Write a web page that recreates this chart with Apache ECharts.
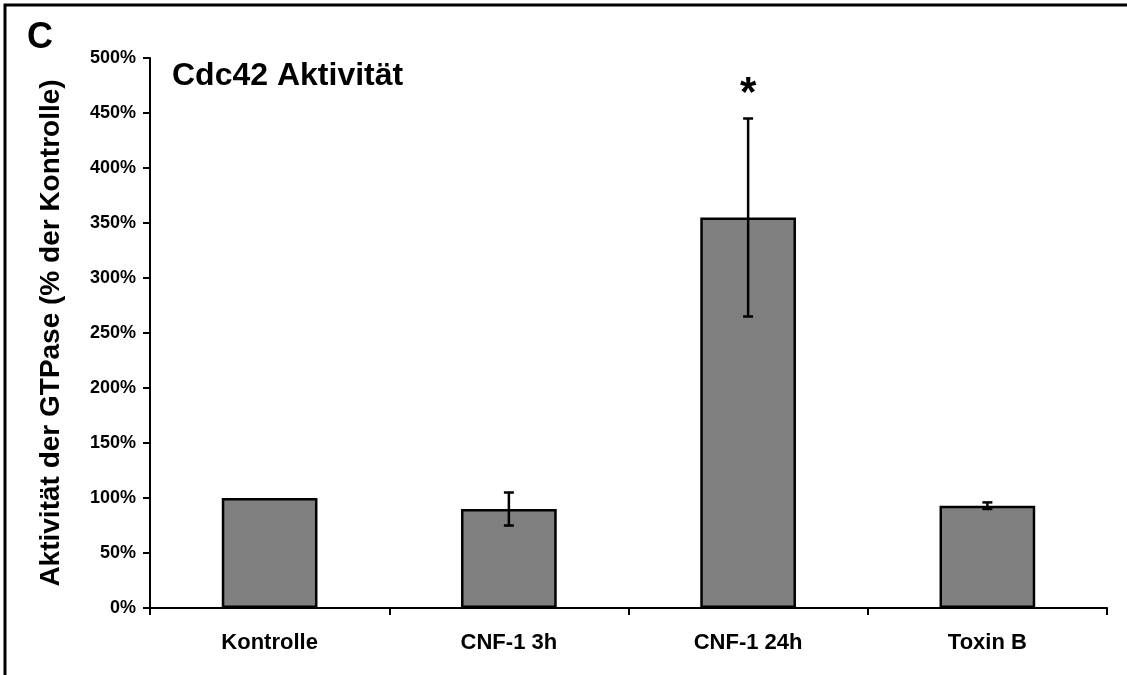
<!DOCTYPE html>
<html>
<head>
<meta charset="utf-8">
<script src="https://cdn.jsdelivr.net/npm/echarts@6/dist/echarts.min.js"></script>
<style>html,body{margin:0;padding:0;background:#fff}#c{width:1127px;height:675px}</style>
</head>
<body>
<div id="c"></div>
<script>
const categories = ['Kontrolle', 'CNF-1 3h', 'CNF-1 24h', 'Toxin B'];
const values = [100, 90, 355, 93];
const errLow = [null, 75, 265, 90];
const errHigh = [null, 105, 445, 96];
const starLabels = [null, null, '*', null];
const starValues = [null, null, 467, null];
const yTicks = [0, 50, 100, 150, 200, 250, 300, 350, 400, 450, 500];

const F = 'Liberation Sans, Arial, sans-serif';
const chart = echarts.init(document.getElementById('c'));

const errData = [];
categories.forEach((c, i) => { if (errLow[i] != null) errData.push([i, errLow[i], errHigh[i]]); });
const starData = [];
categories.forEach((c, i) => { if (starLabels[i]) starData.push({value: [i, starValues[i]], label: starLabels[i]}); });

chart.setOption({
  animation: false,
  backgroundColor: '#fff',
  graphic: [
    {type: 'rect', shape: {x: 5, y: 5, width: 1300, height: 900}, style: {fill: 'none', stroke: '#000', lineWidth: 3}, z: 100},
    {type: 'text', left: 27, top: 20, style: {text: 'C', font: 'bold 36px ' + F, fill: '#000'}},
    {type: 'text', left: 172, top: 60, style: {text: 'Cdc42 Aktivität', font: 'bold 32px ' + F, fill: '#000'}}
  ],
  grid: {left: 150, right: 20, top: 58, bottom: 67},
  xAxis: {
    type: 'category',
    data: categories,
    axisLine: {lineStyle: {color: '#000', width: 2}},
    axisTick: {show: true, length: 7, lineStyle: {color: '#000', width: 2}},
    axisLabel: {color: '#000', fontFamily: F, fontWeight: 'bold', fontSize: 22, margin: 24}
  },
  yAxis: {
    type: 'value',
    min: yTicks[0], max: yTicks[yTicks.length - 1], interval: 50,
    name: 'Aktivität der GTPase (% der Kontrolle)',
    nameLocation: 'middle', nameGap: 85, nameRotate: 90,
    nameTextStyle: {color: '#000', fontFamily: F, fontWeight: 'bold', fontSize: 28},
    axisLine: {show: true, lineStyle: {color: '#000', width: 2}},
    axisTick: {show: true, length: 7, lineStyle: {color: '#000', width: 2}},
    splitLine: {show: false},
    axisLabel: {color: '#000', fontFamily: F, fontWeight: 'bold', fontSize: 18, margin: 14, formatter: '{value}%'}
  },
  series: [
    {
      type: 'bar', data: values, barWidth: '40%',
      itemStyle: {color: '#808080', borderColor: '#000', borderWidth: 2.5}
    },
    {
      type: 'custom', data: errData, z: 10,
      renderItem: function (params, api) {
        const x = api.value(0);
        const lo = api.coord([x, api.value(1)]);
        const hi = api.coord([x, api.value(2)]);
        const w = 5;
        const st = {stroke: '#000', lineWidth: 2.5};
        return {type: 'group', children: [
          {type: 'line', shape: {x1: lo[0], y1: lo[1], x2: hi[0], y2: hi[1]}, style: st},
          {type: 'line', shape: {x1: lo[0] - w, y1: lo[1], x2: lo[0] + w, y2: lo[1]}, style: st},
          {type: 'line', shape: {x1: hi[0] - w, y1: hi[1], x2: hi[0] + w, y2: hi[1]}, style: st}
        ]};
      }
    },
    {
      type: 'custom', data: starData.map(d => d.value), z: 10,
      renderItem: function (params, api) {
        const p = api.coord([api.value(0), api.value(1)]);
        return {type: 'text', x: p[0], y: p[1], style: {text: starData[params.dataIndex].label, font: 'bold 42px ' + F, fill: '#000', align: 'center', verticalAlign: 'middle'}};
      }
    }
  ]
});
</script>
</body>
</html>
